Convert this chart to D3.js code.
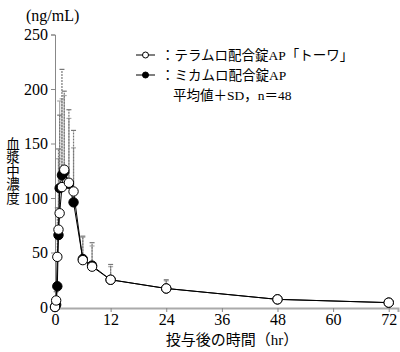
<head>
<meta charset="utf-8">
<style> body { margin: 0; background: #fff; } </style>
<script src="https://cdn.jsdelivr.net/npm/d3@7"></script>
</head>
<body>
<div id="chart"></div>
<script>
// time points (hr)
var times = [0, 0.25, 0.5, 0.75, 1, 1.5, 2, 3, 4, 6, 8, 12, 24, 48, 72];
// テラムロ配合錠AP「トーワ」 (open)
var openMean = [0, 6, 46, 71, 86, 110, 126, 114, 106, 43, 37, 25, 17, 7, 4];
var openSD   = [0, 8, 45, 74, 90, 108, 72, 67, 56, 22, 22, 14, 8, 3, 1.5];
// ミカムロ配合錠AP (filled)
var fillMean = [0, 2, 19, 66, 109, 121, 124, 113, 96, 44, 38, 25, 17, 7, 4];
var fillSD   = [0, 5, 30, 70, 80, 70, 70, 60, 50, 20, 18, 12, 7, 3, 1.5];

var xTicks = [0, 12, 24, 36, 48, 60, 72];
var yTicks = [0, 50, 100, 150, 200, 250];

var W = 400, H = 352;
var serif = "'Liberation Serif', 'Noto Sans CJK JP', serif";
var cjk = "'Noto Sans CJK JP', sans-serif";

var svg = d3.select("#chart").append("svg")
    .attr("width", W)
    .attr("height", H);

var x = d3.scaleLinear().domain([0, 74]).range([55, 398]);
var y = d3.scaleLinear().domain([0, 250]).range([307, 34.5]);

// axes
var yx = svg.append("g")
    .attr("transform", "translate(55,0)")
    .call(d3.axisLeft(y).tickValues(yTicks).tickSize(4).tickPadding(3));
var xx = svg.append("g")
    .attr("transform", "translate(0,308)")
    .call(d3.axisBottom(x).tickValues(xTicks).tickSize(4).tickPadding(2));

yx.selectAll("path").attr("stroke", "#888");
yx.selectAll("line").attr("stroke", "#888");
xx.selectAll("path").attr("stroke", "#aaa").attr("stroke-width", 2);
xx.selectAll("line").attr("stroke", "#888");
svg.selectAll(".tick text")
    .attr("font-family", serif)
    .attr("font-size", 16)
    .attr("fill", "#000");

function rows(mean, sd) {
    return times.map(function(t, i) { return {t: t, m: mean[i], sd: sd[i]}; });
}
var openData = rows(openMean, openSD);
var fillData = rows(fillMean, fillSD);

function addBars(data, col, dash) {
    var g = svg.append("g")
        .attr("stroke", col)
        .attr("stroke-width", 1.2)
        .attr("fill", "none");
    data.filter(d => d.sd > 0).forEach(function(d) {
        g.append("line")
            .attr("x1", x(d.t)).attr("x2", x(d.t))
            .attr("y1", y(d.m)).attr("y2", y(d.m + d.sd))
            .attr("stroke-dasharray", dash);
        g.append("line")
            .attr("x1", x(d.t) - 2.5).attr("x2", x(d.t) + 2.5)
            .attr("y1", y(d.m + d.sd)).attr("y2", y(d.m + d.sd));
    });
}

addBars(fillData, "#aaa", null);
addBars(openData, "#777", "2,1");

var line = d3.line().x(d => x(d.t)).y(d => y(d.m));

function addSeries(data, fill) {
    svg.append("path")
        .datum(data)
        .attr("fill", "none")
        .attr("stroke", "#000")
        .attr("stroke-width", 1)
        .attr("d", line);
    svg.append("g").selectAll("circle")
        .data(data)
        .enter().append("circle")
        .attr("cx", d => x(d.t))
        .attr("cy", d => y(d.m))
        .attr("r", 4.7)
        .attr("fill", fill)
        .attr("stroke", "#000")
        .attr("stroke-width", 1);
}

addSeries(fillData, "#000");
addSeries(openData, "#fff");

// legend
var legend = [
    {label: "：テラムロ配合錠AP「トーワ」", fill: "#fff"},
    {label: "：ミカムロ配合錠AP", fill: "#000"}
];
legend.forEach(function(l, i) {
    var ly = 55 + i * 20;
    svg.append("line")
        .attr("x1", 136).attr("x2", 155)
        .attr("y1", ly).attr("y2", ly)
        .attr("stroke", "#000");
    svg.append("circle")
        .attr("cx", 145.5).attr("cy", ly).attr("r", 3)
        .attr("fill", l.fill).attr("stroke", "#000");
    svg.append("text")
        .attr("x", 161).attr("y", ly)
        .attr("dy", "0.35em")
        .attr("font-family", serif)
        .attr("font-size", 13.5)
        .text(l.label);
});
svg.append("text")
    .attr("x", 173).attr("y", 95)
    .attr("dy", "0.35em")
    .attr("font-family", serif)
    .attr("font-size", 13.5)
    .text("平均値＋SD，n＝48");

// axis titles
svg.append("text")
    .attr("x", 26).attr("y", 15)
    .attr("dy", "0.35em")
    .attr("font-family", serif)
    .attr("font-size", 16)
    .text("(ng/mL)");

svg.append("text")
    .attr("x", 13).attr("y", 137)
    .attr("font-family", cjk)
    .attr("font-size", 13.5)
    .style("writing-mode", "vertical-rl")
    .style("glyph-orientation-vertical", "0")
    .text("血漿中濃度");

svg.append("text")
    .attr("x", 232).attr("y", 340)
    .attr("dy", "0.35em")
    .attr("text-anchor", "middle")
    .attr("font-family", serif)
    .attr("font-size", 15)
    .text("投与後の時間（hr）");
</script>
</body>
